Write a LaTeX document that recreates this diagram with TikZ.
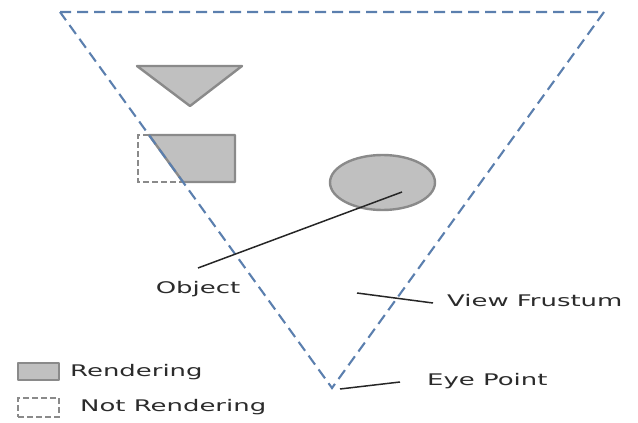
\documentclass[tikz,border=0pt]{standalone}
\usepackage{fontspec}
\setmainfont{DejaVu Sans}
\usetikzlibrary{shapes.geometric}
\definecolor{frust}{HTML}{5B7FAE}
\definecolor{objfill}{HTML}{C0C0C0}
\definecolor{objline}{HTML}{8A8A8A}
\definecolor{txt}{HTML}{2B2B2B}
\newcommand{\wtxt}[1]{\scalebox{1.62}[1]{#1}}
\tikzset{
  frustum/.style={draw=frust, line width=2.1pt, dash pattern=on 11pt off 6pt},
  objshape/.style={draw=objline, fill=objfill, line width=2.4pt, line join=round},
  notrend/.style={draw=objline, line width=2.2pt, dash pattern=on 6pt off 3pt},
  lbl/.style={text=txt, font=\fontsize{16}{19}\selectfont, inner sep=0pt},
  leader/.style={draw=black!85, line width=1.5pt},
}
\begin{document}
\begin{tikzpicture}[x=1pt,y=-1pt]
\useasboundingbox (0,0) rectangle (638,423);
% frustum
\coordinate (tl) at (60,12);
\coordinate (tr) at (604,12);
\coordinate (eye) at (332,388);
% objects
\path[objshape] (137,66) -- (242,66) -- (190,106) -- cycle;
\path[objshape] (149,135) -- (235,135) -- (235,182) -- (183,182) -- cycle;
\draw[notrend] (149,135) -- (138,135) -- (138,182) -- (183,182);
\node[ellipse, objshape, minimum width=105pt, minimum height=55pt, inner sep=0pt] (obj) at (382.5,182.5) {};
\draw[frustum] (tl) -- (tr) -- (eye) -- cycle;
% labels
\node[lbl] (objlbl) at (198,289) {\wtxt{Object}};
\node[lbl, anchor=west] (vflbl) at (447,301) {\wtxt{View Frustum}};
\node[lbl, anchor=west] (eyelbl) at (427,381) {\wtxt{Eye Point}};
\coordinate (objend) at (402,192);
\coordinate (objstart) at (198,268);
\coordinate (vfstart) at (357,293);
\coordinate (vfend) at (433,303);
\coordinate (eyestart) at (340,389);
\coordinate (eyeend) at (400,382);
\draw[leader] (objstart) -- (objend);
\draw[leader] (vfstart) -- (vfend);
\draw[leader] (eyestart) -- (eyeend);
% legend
\node[objshape, rectangle, minimum width=41pt, minimum height=17pt, inner sep=0pt] (legr) at (38.5,371.5) {};
\node[notrend, rectangle, minimum width=41pt, minimum height=19pt, inner sep=0pt] (legn) at (38.5,407.5) {};
\node[lbl, anchor=west] (legrlbl) at (70,372) {\wtxt{Rendering}};
\node[lbl, anchor=west] (legnlbl) at (80,407) {\wtxt{Not Rendering}};
\end{tikzpicture}
\end{document}
